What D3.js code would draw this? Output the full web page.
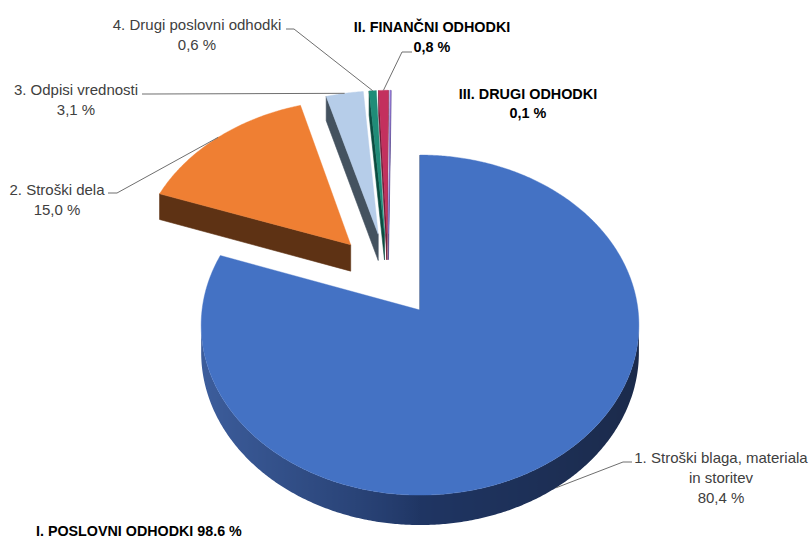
<!doctype html>
<html>
<head>
<meta charset="utf-8">
<script src="https://cdn.jsdelivr.net/npm/d3@7/dist/d3.min.js"></script>
<style>
  body { margin: 0; background: #fff; }
  text { font-family: "Liberation Sans", Arial, sans-serif; }
</style>
</head>
<body>
<script>
// slices, clockwise from 12 o'clock
var categories = [
  ["1. Stroški blaga, materiala", "in storitev"],
  ["2. Stroški dela"],
  ["3. Odpisi vrednosti"],
  ["4. Drugi poslovni odhodki"],
  ["II. FINANČNI ODHODKI"],
  ["III. DRUGI ODHODKI"]
];
var shares = [80.4, 15.0, 3.1, 0.6, 0.8, 0.1];
var shareLabels = ["80,4 %", "15,0 %", "3,1 %", "0,6 %", "0,8 %", "0,1 %"];
var groupLabel = "I. POSLOVNI ODHODKI 98.6 %";

// styling
var topColors  = ["#4472C4", "#EF7F33", "#B6CDE9", "#1F8C78", "#C3305E", "#8E72D2"];
var sideColors = ["#1e3462", "#5E3214", "#44525F", "#0B4C40", "#6E1B38", "#4a3a80"];
var boldLabel  = [false, false, false, false, true, true];

// label placement: centre x, first baseline, leader stub [from, to] (or null)
var labelPos = [
  {x: 721, y: 463, stub: [[632, 462], [623, 462]], z: 1},
  {x: 57,  y: 195, stub: [[108, 193], [117, 193]], z: 0},
  {x: 76,  y: 95,  stub: [[142, 94], [150, 94]],   z: 0},
  {x: 197, y: 30,  stub: [[286, 29], [294, 29]],   z: 0},
  {x: 432, y: 32,  stub: [[412, 52], [402, 52]],   z: 0, gap: 20},
  {x: 528, y: 99,  stub: null}
];

var W = 809, Hgt = 538;
var svg = d3.select("body").append("svg")
  .attr("width", W).attr("height", Hgt);
var defs = svg.append("defs");

// 3D projection of the tilted disk (u right, v away from viewer, z down 0..1)
var X0 = 420, Y0 = 310, R = 218, RY = 168.7, P = 0.0884, DEPTH = 27.3;
function proj(u, v, z) {
  var s = 1 / (1 + P * v);
  return [X0 + R * u * s, Y0 + (-RY * v + DEPTH * z) * s];
}
var center = [-0.150, 0.212], explode = 0.26;

var arcs = d3.pie().sort(null).value(d => d).startAngle(0).endAngle(2 * Math.PI)(shares);

function area(poly) {
  var a = 0;
  for (var i = 0; i < poly.length; i++) {
    var p = poly[i], q = poly[(i + 1) % poly.length];
    a += p[0] * q[1] - q[0] * p[1];
  }
  return a / 2;
}
var line = d3.line();

var slices = arcs.map(function(a, i) {
  var m = (a.startAngle + a.endAngle) / 2;
  var o = [center[0] + explode * Math.sin(m), center[1] + explode * Math.cos(m)];
  return {i: i, a0: a.startAngle, a1: a.endAngle, m: m, o: o,
          depth: o[1] + 0.5 * Math.cos(m)};
});

function pt(sl, t, z) { return proj(sl.o[0] + Math.sin(t), sl.o[1] + Math.cos(t), z); }
function apex(sl, z) { return proj(sl.o[0], sl.o[1], z); }

function wallColor(i, t) {
  if (i !== 0) return sideColors[i];
  var nx = Math.sin(t);
  if (nx >= 0) return d3.interpolateRgb("#1f3563", "#1b2a4a")(nx);
  return d3.interpolateRgb("#1f3563", "#3d5e9d")(Math.pow(-nx, 0.8));
}

var pieG = svg.append("g");
slices.slice().sort((a, b) => b.depth - a.depth).forEach(function(sl) {
  var i = sl.i;
  var n = Math.max(2, Math.ceil((sl.a1 - sl.a0) / (Math.PI / 360)));
  var ts = d3.range(n + 1).map(k => sl.a0 + (sl.a1 - sl.a0) * k / n);

  var top = [apex(sl, 0)].concat(ts.slice().reverse().map(t => pt(sl, t, 0)));
  var ref = Math.sign(area(top));
  var g = pieG.append("g");
  function visible(poly) {
    var a = area(poly);
    return Math.sign(a) === ref && Math.abs(a) > 1e-6;
  }
  function face(poly, color) {
    if (!visible(poly)) return;
    g.append("path").attr("d", line(poly) + "Z")
      .attr("fill", color).attr("stroke", color).attr("stroke-width", 0.6)
      .attr("stroke-linejoin", "round");
  }
  // radial faces
  face([apex(sl, 0), pt(sl, sl.a0, 0), pt(sl, sl.a0, 1), apex(sl, 1)], sideColors[i]);
  face([apex(sl, 0), apex(sl, 1), pt(sl, sl.a1, 1), pt(sl, sl.a1, 0)], sideColors[i]);

  // outer wall: contiguous runs of front-facing segments
  var runs = [], cur = null;
  for (var k = 0; k < n; k++) {
    var vis = visible([pt(sl, ts[k], 0), pt(sl, ts[k + 1], 0), pt(sl, ts[k + 1], 1), pt(sl, ts[k], 1)]);
    if (vis) { if (!cur) { cur = [ts[k]]; runs.push(cur); } cur.push(ts[k + 1]); }
    else cur = null;
  }
  runs.forEach(function(run, r) {
    var poly = run.map(t => pt(sl, t, 0)).concat(run.slice().reverse().map(t => pt(sl, t, 1)));
    var xs = run.map(t => pt(sl, t, 0.5)[0]);
    var x1 = d3.min(xs), x2 = d3.max(xs);
    var id = "wall" + i + "_" + r;
    var grad = defs.append("linearGradient").attr("id", id)
      .attr("gradientUnits", "userSpaceOnUse")
      .attr("x1", x1).attr("x2", x2).attr("y1", 0).attr("y2", 0);
    var stops = run.map(t => ({off: (pt(sl, t, 0.5)[0] - x1) / Math.max(1e-6, x2 - x1), c: wallColor(i, t)}))
      .sort((a, b) => a.off - b.off);
    grad.selectAll("stop").data(stops).enter().append("stop")
      .attr("offset", d => d.off).attr("stop-color", d => d.c);
    g.append("path").attr("d", line(poly) + "Z").attr("fill", "url(#" + id + ")");
  });

  g.append("path").attr("d", line(top) + "Z")
    .attr("fill", topColors[i]).attr("stroke", topColors[i]).attr("stroke-width", 0.4);
});

// leader lines and labels
var labG = svg.append("g");
slices.forEach(function(sl) {
  var i = sl.i, L = labelPos[i];
  if (L.stub) {
    var end = pt(sl, sl.m, L.z);
    labG.append("path")
      .attr("d", line([L.stub[0], L.stub[1], end]))
      .attr("fill", "none").attr("stroke", "#6f6f6f").attr("stroke-width", 1);
  }
  var lines = categories[i].concat([shareLabels[i]]);
  var gap = L.gap || (boldLabel[i] ? 19 : 20);
  labG.selectAll(null).data(lines).enter().append("text")
    .attr("x", L.x).attr("y", (d, k) => L.y + k * gap)
    .attr("text-anchor", "middle")
    .attr("font-size", boldLabel[i] ? 14.4 : 15)
    .attr("font-weight", boldLabel[i] ? "bold" : "normal")
    .attr("fill", boldLabel[i] ? "#000" : "#404040")
    .text(d => d);
});

svg.append("text")
  .attr("x", 36).attr("y", 536)
  .attr("font-size", 14.3).attr("font-weight", "bold").attr("fill", "#000")
  .text(groupLabel);
</script>
</body>
</html>
